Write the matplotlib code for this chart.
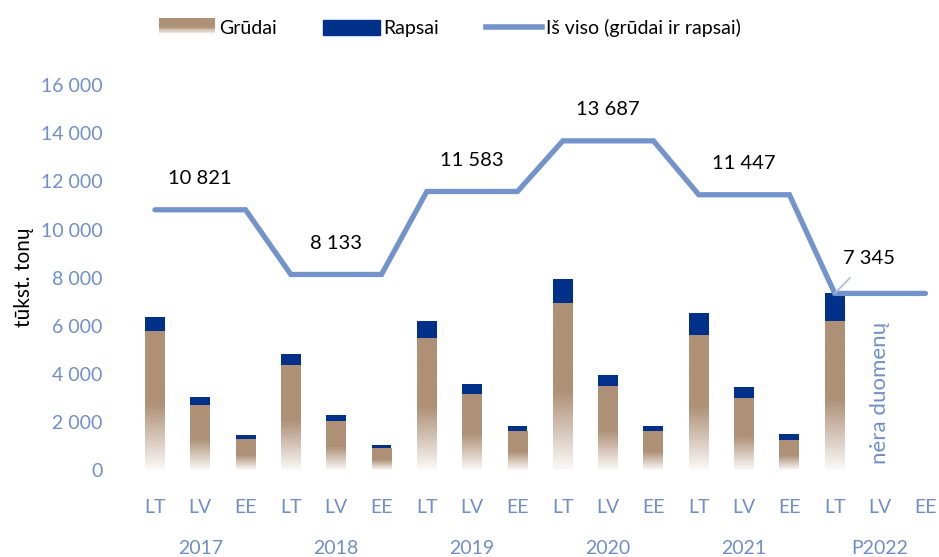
import matplotlib.pyplot as plt
import numpy as np
from matplotlib.patches import Rectangle
from matplotlib.lines import Line2D
from matplotlib.legend_handler import HandlerBase
from matplotlib.colors import to_rgb

# Duomenys (tūkst. tonų)
metai = ["2017", "2018", "2019", "2020", "2021", "P2022"]
salys = ["LT", "LV", "EE"]
grudai = [5790, 2700, 1290, 4360, 2040, 910, 5490, 3160, 1620,
          6940, 3490, 1620, 5610, 2990, 1250, 6190, np.nan, np.nan]
rapsai = [570, 330, 160, 460, 250, 130, 700, 410, 210,
          1000, 460, 210, 920, 460, 250, 1155, np.nan, np.nan]
is_viso = [10821, 8133, 11583, 13687, 11447, 7345]

BROWN = "#AE9076"
NAVY = "#00318A"
BLUE = "#7393CB"
TICK = "#6F8FCA"

plt.rcParams['font.family'] = ['Lato', 'DejaVu Sans']


def gradient_img(n=200):
    """vertikalus gradientas: apačioje beveik balta, nuo vidurio - ruda"""
    t = np.linspace(0, 1, n)
    k = np.clip(0.05 + t / 0.5, 0, 1)
    c = np.array(to_rgb(BROWN))
    img = 1 - k[:, None] * (1 - c[None, :])
    return img[:, None, :]


class GradientHandler(HandlerBase):
    def create_artists(self, legend, orig_handle, xdescent, ydescent,
                       width, height, fontsize, trans):
        img = gradient_img(12)[:, 0, :]
        arts = []
        n = len(img)
        h = height * 1.1
        for i in range(n):
            r = Rectangle((-xdescent, -ydescent + h * i / n), width, h / n + 0.1,
                          facecolor=img[i], edgecolor='none', transform=trans)
            arts.append(r)
        return arts


n = len(metai) * len(salys)
x = np.arange(n)
w = 0.44

fig = plt.figure(figsize=(9.39, 5.57), dpi=100)
ax = fig.add_axes([0.136, 0.156, 0.864, 0.691])

img = gradient_img()
for xi, g, r in zip(x, grudai, rapsai):
    if np.isnan(g):
        continue
    ax.imshow(img, extent=[xi - w / 2, xi + w / 2, 0, g], aspect='auto',
              origin='lower', zorder=2)
    ax.bar(xi, r, w, bottom=g, color=NAVY, zorder=2)

linija = np.repeat(is_viso, 3)
ax.plot(x, linija, color=BLUE, lw=3.8, solid_capstyle='round',
        solid_joinstyle='miter', zorder=3)

for i, v in enumerate(is_viso[:-1]):
    ax.text(3 * i + 1, v + 1300, f"{v:,}".replace(",", " "),
            ha='center', va='center', fontsize=14.5, color='black')
ax.annotate(f"{is_viso[-1]:,}".replace(",", " "), xy=(15, is_viso[-1]),
            xytext=(15.75, is_viso[-1] + 1450), ha='center', va='center',
            fontsize=14.5, color='black',
            arrowprops=dict(arrowstyle='-', color='#A9BCE0', lw=1.2,
                            shrinkA=8, shrinkB=0))

ax.text(16, 3200, "nėra duomenų", rotation=90, ha='center', va='center',
        fontsize=16, color=TICK)

ax.set_xlim(-0.6, 17.3)
ax.set_ylim(0, 16000)
ax.set_yticks(np.arange(0, 16001, 2000))
ax.set_yticklabels([f"{v:,}".replace(",", " ") for v in range(0, 16001, 2000)])
ax.set_xticks(x)
ax.set_xticklabels(salys * len(metai))
ax.tick_params(axis='both', length=0, labelsize=14, labelcolor=TICK)
ax.tick_params(axis='x', pad=21)
ax.tick_params(axis='y', pad=18)
for s in ax.spines.values():
    s.set_visible(False)

for i, m in enumerate(metai):
    ax.text(3 * i + 1, -0.203, m, transform=ax.get_xaxis_transform(),
            ha='center', va='center', fontsize=14, color=TICK)

ax.set_ylabel("tūkst. tonų", fontsize=15, color='black', labelpad=5)

handles = [Rectangle((0, 0), 1, 1), Rectangle((0, 0), 1, 1, color=NAVY),
           Line2D([], [], color=BLUE, lw=4)]
labels = ["Grūdai", "Rapsai", "Iš viso (grūdai ir rapsai)"]
fig.legend(handles, labels, loc='center', bbox_to_anchor=(0.479, 0.95),
           ncol=3, frameon=False, fontsize=14, handlelength=2.9,
           handleheight=0.8, columnspacing=2.4, handletextpad=0.2,
           handler_map={handles[0]: GradientHandler()})

fig.savefig("out.png", dpi=100)
